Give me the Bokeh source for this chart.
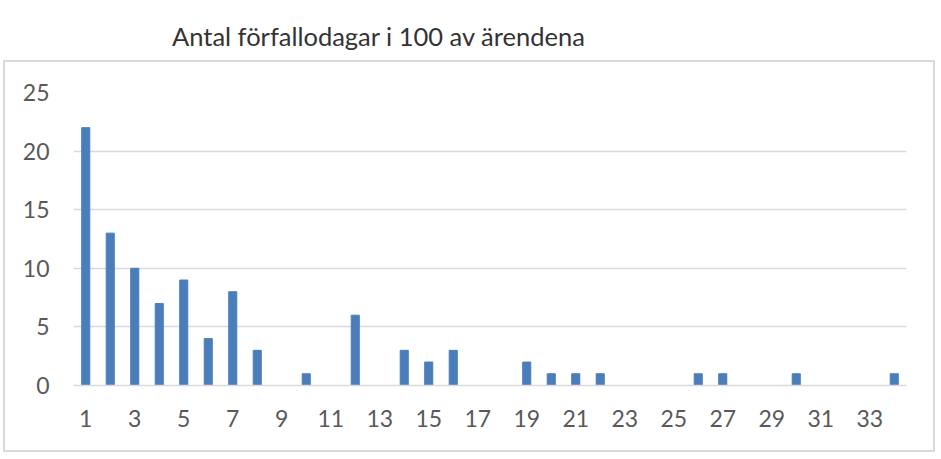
from bokeh.plotting import figure
from bokeh.models import FixedTicker, Range1d, Div
from bokeh.layouts import column
from bokeh.embed import file_html
from bokeh.resources import INLINE

days = list(range(1, 35))
counts = [22, 13, 10, 7, 9, 4, 8, 3, 0, 1, 0, 6, 0, 3, 2, 3, 0, 0, 2, 1,
          1, 1, 0, 0, 0, 1, 1, 0, 0, 1, 0, 0, 0, 1]
x_ticks = list(range(1, 35, 2))
y_ticks = [0, 5, 10, 15, 20, 25]
title = "Antal förfallodagar i 100 av ärendena"

div = Div(text=title, width=941, height=60, margin=0,
          styles={"font-family": "Lato", "font-size": "25.5px", "color": "#333333",
                  "padding-left": "172px", "padding-top": "24px",
                  "box-sizing": "border-box", "line-height": "1"})

p = figure(width=928, height=388, output_backend="svg", toolbar_location=None,
           x_range=Range1d(0.5, 34.5), y_range=Range1d(0, 25),
           min_border_left=68, min_border_right=31, min_border_top=30,
           min_border_bottom=69, frame_width=829, frame_height=289)
p.margin = (0, 0, 0, 3)
p.styles = {"border": "2px solid #d9d9d9"}

p.vbar(x=days, top=counts, width=0.33, color="#4a7ebb")

p.outline_line_color = None
p.background_fill_color = "white"
p.border_fill_color = "white"

p.xgrid.grid_line_color = None
p.ygrid.grid_line_color = "#d9d9d9"
p.ygrid.grid_line_width = 1.5
p.ygrid.ticker = FixedTicker(ticks=y_ticks)

p.yaxis.ticker = FixedTicker(ticks=y_ticks)
p.xaxis.ticker = FixedTicker(ticks=x_ticks)
for ax in (p.xaxis, p.yaxis):
    ax.axis_line_color = None
    ax.major_tick_line_color = None
    ax.minor_tick_line_color = None
    ax.major_label_text_font = "Lato"
    ax.major_label_text_font_size = "23px"
    ax.major_label_text_color = "#595959"
p.xaxis.axis_line_color = "#d9d9d9"
p.xaxis.axis_line_width = 1.5
p.yaxis.major_label_standoff = 18
p.xaxis.major_label_standoff = 18

layout = column(div, p, spacing=0)
open("out.html", "w").write(file_html(layout, INLINE))
